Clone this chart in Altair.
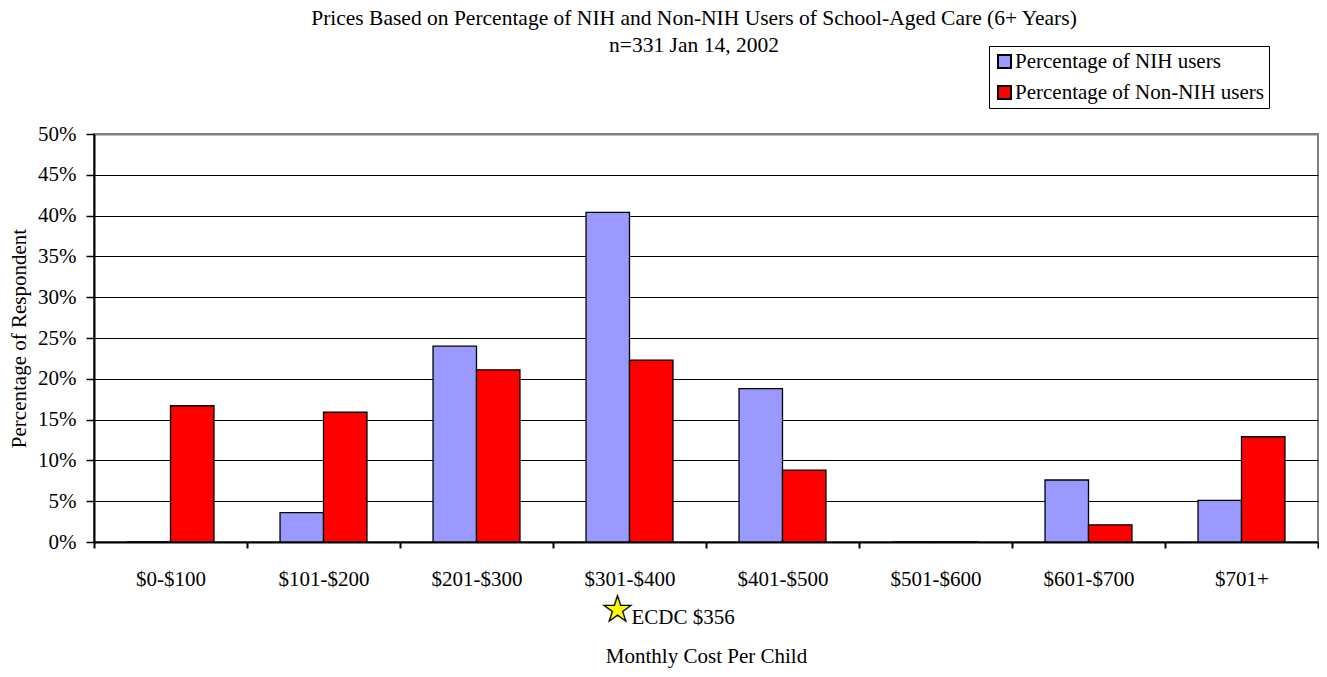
import altair as alt
import pandas as pd

categories = ["$0-$100", "$101-$200", "$201-$300", "$301-$400",
              "$401-$500", "$501-$600", "$601-$700", "$701+"]
series_names = ["Percentage of NIH users", "Percentage of Non-NIH users"]
nih_pct = [0.0, 3.6, 24.0, 40.4, 18.8, 0.0, 7.6, 5.1]
non_nih_pct = [16.7, 15.9, 21.1, 22.3, 8.8, 0.0, 2.1, 12.9]
series_colors = ["#9999FF", "#FF0000"]
y_ticks = [0, 5, 10, 15, 20, 25, 30, 35, 40, 45, 50]
annotation_cat = ["$301-$400"]
annotation_text = ["ECDC $356"]
annotation_symbol = ["\u2605"]

rows = []
for c, a, b in zip(categories, nih_pct, non_nih_pct):
    rows.append({"cat": c, "series": series_names[0], "value": a})
    rows.append({"cat": c, "series": series_names[1], "value": b})
df = pd.DataFrame(rows)
ann = pd.DataFrame({"cat": annotation_cat, "label": annotation_text,
                    "sym": annotation_symbol})

FONT = "Liberation Serif"
FS = 21

x_enc = alt.X(
    "cat:N", sort=categories,
    scale=alt.Scale(paddingInner=0, paddingOuter=0),
    axis=alt.Axis(
        title="Monthly Cost Per Child", labelAngle=0, labelFontSize=FS,
        labelFont=FONT, titleFont=FONT,
        labelColor="black", titleFontSize=FS, titleFontWeight="normal",
        titleColor="black", tickBand="extent", tickSize=6, tickWidth=2,
        tickColor="black", domainColor="black", domainWidth=2,
        labelPadding=20, titlePadding=56, grid=False,
    ),
)

bars = alt.Chart(df).mark_bar(stroke="black", strokeWidth=1.3).encode(
    x=x_enc,
    xOffset=alt.XOffset("series:N", sort=series_names,
                        scale=alt.Scale(paddingInner=0, paddingOuter=0.76)),
    y=alt.Y(
        "value:Q",
        scale=alt.Scale(domain=[0, 50], nice=False),
        axis=alt.Axis(
            title="Percentage of Respondent", values=y_ticks,
            labelExpr="datum.value + '%'", labelFontSize=FS, labelColor="black",
            labelFont=FONT, titleFont=FONT,
            titleFontSize=FS, titleFontWeight="normal", titleColor="black",
            tickSize=8, tickWidth=1.5, tickColor="black",
            domainColor="black", domainWidth=2, labelPadding=10,
            titlePadding=8,
            grid=True,
            gridColor={"condition": {"test": "datum.value >= 50", "value": "#808080"},
                       "value": "black"},
            gridWidth={"condition": {"test": "datum.value >= 50", "value": 2},
                       "value": 1},
            gridOpacity=1,
        ),
    ),
    color=alt.Color(
        "series:N", sort=series_names,
        scale=alt.Scale(domain=series_names, range=series_colors),
        legend=alt.Legend(
            title=None, orient="none", legendX=895, legendY=-88,
            labelFontSize=FS, labelColor="black", labelFont=FONT,
            labelLimit=500,
            symbolType="square", symbolSize=169, symbolStrokeColor="black",
            symbolStrokeWidth=2, symbolOpacity=1, labelOffset=0,
            rowPadding=9, padding=5, strokeColor="black",
        ),
    ),
)

star = alt.Chart(ann).mark_text(
    align="center", baseline="middle", fontSize=35, font="DejaVu Sans",
    fill="#FFFF00", stroke="black", strokeWidth=1.3, dx=-12,
).encode(x=alt.X("cat:N", sort=categories), y=alt.value(476), text="sym:N")

ann_text = alt.Chart(ann).mark_text(
    align="left", baseline="alphabetic", fontSize=FS, font=FONT, color="black",
    dx=2,
).encode(x=alt.X("cat:N", sort=categories), y=alt.value(490), text="label:N")

chart = alt.layer(bars, star, ann_text).properties(
    width=1224, height=408,
    autosize=alt.AutoSizeParams(type="none"),
    padding={"left": 86, "top": 126, "right": 1, "bottom": 126},
    title=alt.Title(
        text="Prices Based on Percentage of NIH and Non-NIH Users of School-Aged Care (6+ Years)",
        subtitle="n=331 Jan 14, 2002",
        fontSize=21.5, subtitleFontSize=21.5, font=FONT, subtitleFont=FONT,
        fontWeight="normal", color="black", subtitleColor="black",
        anchor="middle", dx=-12, offset=-11, subtitlePadding=6,
    ),
).configure(font=FONT).configure_view(stroke="#808080", strokeWidth=2)

chart.save("out.html", embed_options={"renderer": "svg", "actions": False})
